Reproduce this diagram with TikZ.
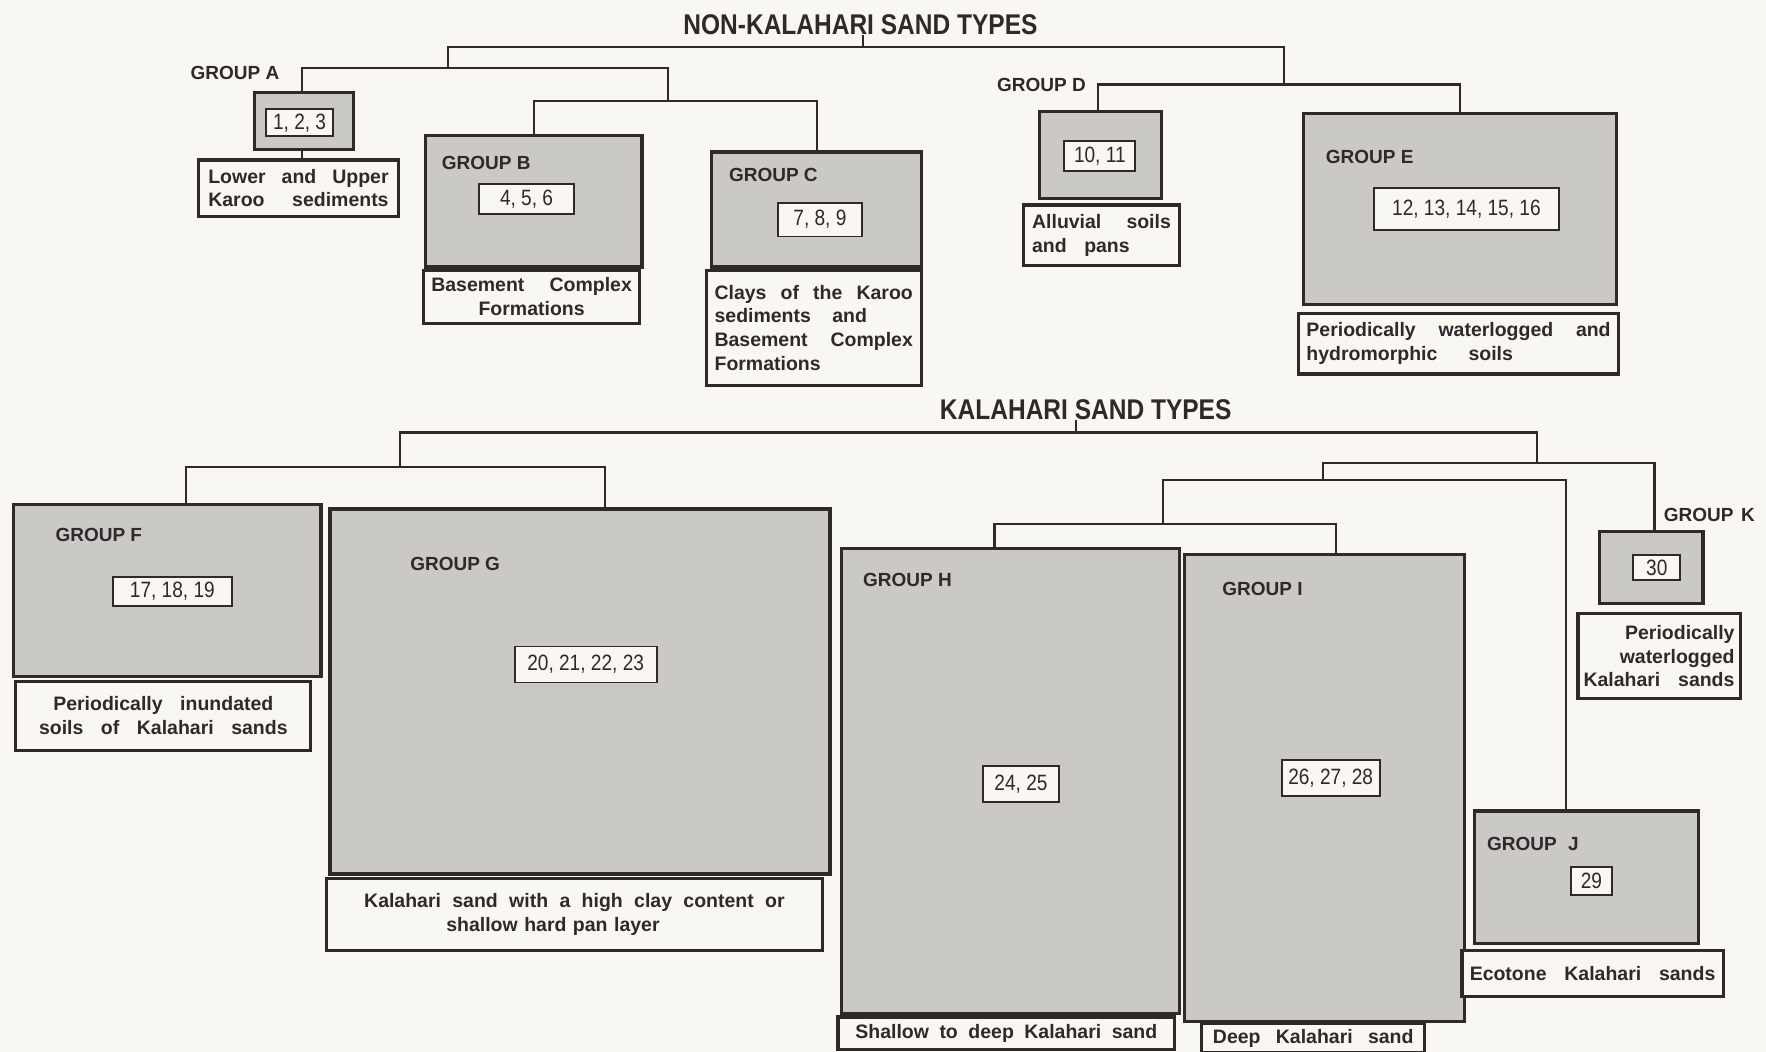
\documentclass[tikz,border=0pt]{standalone}
\usepackage{fontspec}
\setmainfont{Liberation Sans}
\newfontfamily\condfont[FakeStretch=0.86]{Liberation Sans}

\definecolor{paper}{HTML}{F8F7F2}
\definecolor{ink}{HTML}{2E2A2A}
\definecolor{screen}{HTML}{CBC9C5}

\begin{document}
\begin{tikzpicture}[x=0.025cm, y=-0.025cm,
    corners/.style n args={4}{minimum width={(#3-#1)*0.025cm},
      minimum height={(#4-#2)*0.025cm}, at={({(#1+#3)/2},{(#2+#4)/2})}},
    tree/.style={draw=ink, line width=1.3pt},
    grpbox/.style={draw=ink, fill=screen, line width=2pt, inner sep=0pt},
    numbox/.style={draw=ink, fill=paper, line width=1.2pt, inner sep=0pt,
      text=ink, font=\condfont\fontsize{14}{16}\selectfont},
    descbox/.style={draw=ink, fill=paper, line width=2pt, inner sep=0pt,
      align=center, text=ink,
      font={\fontsize{12.3}{15}\selectfont\bfseries\spaceskip=0.5em plus 0.5em minus 0.05em\relax}},
    grplabel/.style={anchor=west, inner sep=0pt, text=ink,
      font=\fontsize{12}{14}\selectfont\bfseries},
    heading/.style={inner sep=0pt, text=ink,
      font=\condfont\bfseries\fontsize{18}{20}\selectfont}]

  % --- Hoja ---
  \fill[paper] (0,0) rectangle (1568,934);
  \useasboundingbox (0,0) rectangle (1568,934);

  % --- Titulos ---
  \node[heading] (nktitle) at (764,22) {NON-KALAHARI SAND TYPES};
  \node[heading] (ktitle) at (964,364) {KALAHARI SAND TYPES};

  % --- Grupos no Kalahari ---
  \node[grpbox, corners={226}{82}{314}{133}] (boxA) {};
  \node[grplabel] (lblA) at (169,65) {GROUP A};
  \node[numbox, corners={236}{97}{296}{121}] (numA) {1, 2, 3};
  \node[descbox, corners={176}{142}{354}{192}, text width=4.0cm] (descA)
    {Lower \hfill and \hfill Upper\\ Karoo \hfill sediments};

  \node[grpbox, corners={378}{120}{570}{237}] (boxB) {};
  \node[grplabel] (lblB) at (392,145) {GROUP B};
  \node[numbox, corners={425}{163}{510}{190}] (numB) {4, 5, 6};
  \node[descbox, corners={376}{240}{568}{287}, text width=4.45cm] (descB)
    {Basement \hfill Complex\\ Formations};

  \node[grpbox, corners={632}{135}{818}{237}] (boxC) {};
  \node[grplabel] (lblC) at (647,155) {GROUP C};
  \node[numbox, corners={691}{180}{765}{210}] (numC) {7, 8, 9};
  \node[descbox, corners={627}{240}{818}{342}, text width=4.4cm] (descC)
    {Clays \hfill of \hfill the \hfill Karoo\\
     sediments\hspace{1.1em}and\hfill\null\\
     Basement \hfill Complex\\
     Formations\hfill\null};

  \node[grpbox, corners={923}{99}{1031}{176}] (boxD) {};
  \node[grplabel] (lblD) at (885,75) {GROUP D};
  \node[numbox, corners={945}{125}{1008}{152}] (numD) {10, 11};
  \node[descbox, corners={909}{182}{1047}{236}, text width=3.08cm] (descD)
    {Alluvial \hfill soils\\ and\hspace{0.9em}pans\hfill\null};

  \node[grpbox, corners={1157}{101}{1435}{270}] (boxE) {};
  \node[grplabel] (lblE) at (1177,139) {GROUP E};
  \node[numbox, corners={1220}{167}{1384}{204}] (numE) {12, 13, 14, 15, 16};
  \node[descbox, corners={1153}{278}{1437}{332}, text width=6.75cm] (descE)
    {Periodically \hfill waterlogged \hfill and\\
     hydromorphic\hspace{1.6em}soils\hfill\null};

  % --- Grupos Kalahari ---
  \node[grpbox, corners={12}{448}{285}{601}] (boxF) {};
  \node[grplabel] (lblF) at (49,475) {GROUP F};
  \node[numbox, corners={100}{512}{206}{538}] (numF) {17, 18, 19};
  \node[descbox, corners={14}{605}{276}{666}, text width=6.0cm] (descF)
    {Periodically\hspace{0.9em}inundated\\
     soils\hspace{0.9em}of\hspace{0.9em}Kalahari\hspace{0.9em}sands};

  \node[grpbox, corners={293}{452}{737}{776}] (boxG) {};
  \node[grplabel] (lblG) at (364,501) {GROUP G};
  \node[numbox, corners={457}{574}{583}{606}] (numG) {20, 21, 22, 23};
  \node[descbox, corners={290}{780}{730}{844}, text width=9.33cm] (descG)
    {Kalahari \hfill sand \hfill with \hfill a \hfill high \hfill clay
     \hfill content \hfill or\\ shallow hard pan layer\hspace{2.2em}\null};

  \node[grpbox, corners={747}{487}{1047}{900}] (boxH) {};
  \node[grplabel] (lblH) at (766,515) {GROUP H};
  \node[numbox, corners={873}{680}{940}{712}] (numH) {24, 25};
  \node[descbox, corners={744}{903}{1043}{932}, text width=6.7cm] (descH)
    {Shallow \hfill to \hfill deep \hfill Kalahari \hfill sand};

  \node[grpbox, corners={1052}{492}{1300}{907}] (boxI) {};
  \node[grplabel] (lblI) at (1085,523) {GROUP I};
  \node[numbox, corners={1138}{675}{1225}{707}] (numI) {26, 27, 28};
  \node[descbox, corners={1067}{909}{1265}{935}, text width=4.45cm] (descI)
    {Deep \hfill Kalahari \hfill sand};

  \node[grpbox, corners={1309}{720}{1508}{838}] (boxJ) {};
  \node[grplabel] (lblJ) at (1320,749) {GROUP\hspace{0.6em}J};
  \node[numbox, corners={1395}{770}{1431}{795}] (numJ) {29};
  \node[descbox, corners={1298}{844}{1530}{885}, text width=5.45cm] (descJ)
    {Ecotone \hfill Kalahari \hfill sands};

  \node[grpbox, corners={1420}{472}{1512}{536}] (boxK) {};
  \node[grplabel] (lblK) at (1477,457) {GROUP\hspace{0.4em}K};
  \node[numbox, corners={1450}{493}{1492}{515}] (numK) {30};
  \node[descbox, corners={1401}{545}{1545}{620}, text width=3.35cm,
    align=right] (descK)
    {Periodically\\ waterlogged\\ Kalahari \hfill sands};

  % --- Arbol no Kalahari ---
  \coordinate (nkhub) at (766,42);
  \coordinate (nkL) at (398,42);
  \coordinate (nkR) at (1140,42);
  \coordinate (barA) at (268,60);
  \coordinate (barBC) at (593,60);
  \coordinate (barB) at (474,90);
  \coordinate (barC) at (725,90);
  \coordinate (barD) at (975,75);
  \coordinate (barE) at (1296,75);

  \draw[tree] (nktitle.south -| nkhub) -- (nkhub);
  \draw[tree] (nkL |- barA) -- (nkL) -- (nkR) -- (nkR |- barD);
  \draw[tree] (boxA.north -| barA) -- (barA) -- (barBC) -- (barBC |- barB);
  \draw[tree] (boxB.north -| barB) -- (barB) -- (barC) -- (boxC.north -| barC);
  \draw[tree] (boxD.north -| barD) -- (barD) -- (barE) -- (boxE.north -| barE);
  \draw[tree] (boxA.south -| barA) -- (descA.north -| barA);

  % --- Arbol Kalahari ---
  \coordinate (khub) at (955,384);
  \coordinate (kL) at (355,384);
  \coordinate (kR) at (1365,384);
  \coordinate (barF) at (165,415);
  \coordinate (barG) at (537,415);
  \coordinate (barX) at (1175,411);
  \coordinate (barK) at (1469,411);
  \coordinate (barY) at (1033,426);
  \coordinate (barJ) at (1390,426);
  \coordinate (barH) at (883,465);
  \coordinate (barI) at (1186,465);

  \draw[tree] (ktitle.south -| khub) -- (khub);
  \draw[tree] (kL |- barF) -- (kL) -- (kR) -- (kR |- barX);
  \draw[tree] (boxF.north -| barF) -- (barF) -- (barG) -- (boxG.north -| barG);
  \draw[tree] (barX |- barY) -- (barX) -- (barK) -- (boxK.north -| barK);
  \draw[tree] (barY |- barH) -- (barY) -- (barJ) -- (boxJ.north -| barJ);
  \draw[tree] (boxH.north -| barH) -- (barH) -- (barI) -- (boxI.north -| barI);

\end{tikzpicture}
\end{document}
